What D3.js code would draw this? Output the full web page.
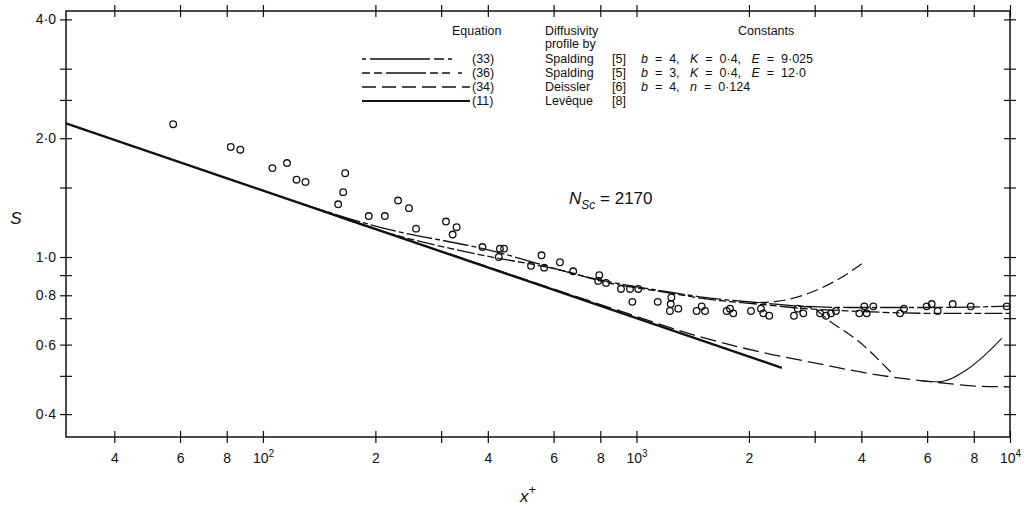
<!DOCTYPE html>
<html>
<head>
<meta charset="utf-8">
<script src="https://cdn.jsdelivr.net/npm/d3@7"></script>
<style>
  body { margin: 0; background: #fff; }
  text { font-family: "Liberation Sans", Arial, sans-serif; fill: #111; }
</style>
</head>
<body>
<svg id="chart" width="1026" height="506"></svg>
<script>
// axis ticks
const xTicks = [40, 60, 80, 100, 200, 300, 400, 600, 800, 1000, 2000, 3000, 4000, 6000, 8000, 10000];
const xTickLabels = ["4", "6", "8", "10^2", "2", "", "4", "6", "8", "10^3", "2", "", "4", "6", "8", "10^4"];
const yTicks = [0.4, 0.5, 0.6, 0.7, 0.8, 0.9, 1.0, 1.5, 2.0, 2.5, 3.0, 4.0];
const yTickLabels = ["0·4", "", "0·6", "", "0·8", "", "1·0", "", "2·0", "", "", "4·0"];

// measured points (x+, S)
const ptX = [57.5, 82, 87, 106, 116, 123, 130, 166, 164, 159, 192, 212, 230, 246, 257, 309, 330, 322,
  387, 431, 442, 428, 522, 557, 566, 624, 677, 795, 790, 829, 909, 961, 1011, 975, 1140, 1235, 1229,
  1294, 1240, 1449, 1495, 1526, 1744, 1780, 1816, 2026, 2154, 2185, 2267, 2640, 2702, 2797, 3100,
  3217, 3316, 3420, 3950, 4074, 4134, 4305, 5077, 5203, 5984, 6171, 6404, 7024, 7850, 9800];
const ptS = [2.17, 1.90, 1.87, 1.68, 1.73, 1.57, 1.55, 1.63, 1.46, 1.36, 1.27, 1.27, 1.39, 1.33, 1.18, 1.23, 1.19, 1.14,
  1.06, 1.05, 1.05, 1.00, 0.95, 1.01, 0.94, 0.97, 0.92, 0.90, 0.87, 0.86, 0.83, 0.83, 0.83, 0.77, 0.77, 0.76, 0.73,
  0.74, 0.79, 0.73, 0.75, 0.73, 0.73, 0.74, 0.72, 0.73, 0.74, 0.72, 0.71, 0.71, 0.74, 0.72, 0.72,
  0.71, 0.72, 0.73, 0.72, 0.75, 0.72, 0.75, 0.72, 0.74, 0.75, 0.76, 0.73, 0.76, 0.75, 0.75];

// theoretical curves
const leveque = [[29.7, 2.18], [2450, 0.524]];
const spalding33 = [[125.6, 1.37], [209.7, 1.184], [388, 1.05], [799, 0.875], [1207, 0.817], [1479, 0.793],
  [2236, 0.763], [2741, 0.751], [3729, 0.745], [6219, 0.745], [10000, 0.751]];
const spalding33Up = [[2100, 0.767], [2373, 0.772], [3038, 0.825], [3506, 0.883], [4023, 0.964]];
const spalding36 = [[142, 1.315], [209.7, 1.16], [316.7, 1.052], [388, 1.01], [652, 0.918], [799, 0.87],
  [1207, 0.813], [1479, 0.787], [2236, 0.756], [2741, 0.742], [3729, 0.73], [6219, 0.72], [10000, 0.72]];
const spalding36Down = [[2741, 0.751], [2914, 0.746], [3357, 0.679], [3888, 0.617], [4825, 0.508]];
const deissler34 = [[316.7, 1.018], [903, 0.73], [1479, 0.628], [2232, 0.57], [3038, 0.538], [4134, 0.508],
  [6427, 0.481], [8144, 0.471], [10000, 0.469]];
const deissler34Up = [[5800, 0.486], [6427, 0.483], [7656, 0.518], [8664, 0.57], [9500, 0.622]];

// legend
const legendEq = ["(33)", "(36)", "(34)", "(11)"];
const legendBy = ["Spalding", "Spalding", "Deissler", "Levêque"];
const legendRef = ["[5]", "[5]", "[6]", "[8]"];
const legendConst = ["b  =  4,   K  =  0·4,   E  =  9·025", "b  =  3,   K  =  0·4,   E  =  12·0", "b  =  4,   n  =  0·124", ""];
const legendDash = ["4,4,60,4,10", "8,4,8,4,40,4,8,4,8", "14,6", null];

const svg = d3.select("#chart");
const margin = {top: 11, right: 16, bottom: 69, left: 66};
const width = 1026 - margin.left - margin.right;
const height = 506 - margin.top - margin.bottom;

const x = d3.scaleLog().domain([29.7, 10000]).range([margin.left, margin.left + width]);
const y = d3.scaleLog().domain([0.35, 4.2]).range([margin.top + height, margin.top]);

// frame
svg.append("rect")
  .attr("x", margin.left).attr("y", margin.top)
  .attr("width", width).attr("height", height)
  .attr("fill", "none").attr("stroke", "#111").attr("stroke-width", 1.5);

function styleAxis(g, vertical) {
  g.select(".domain").remove();
  g.selectAll(".tick line")
    .attr("stroke", "#111").attr("stroke-width", 1.2);
  if (vertical) g.selectAll(".tick line").attr("x1", -6).attr("x2", 6);
  else g.selectAll(".tick line").attr("y1", -6).attr("y2", 6);
  g.selectAll(".tick text")
    .attr("font-family", "Liberation Sans, Arial, sans-serif")
    .attr("font-size", 14).attr("fill", "#111");
}

// bottom axis with labels
svg.append("g")
  .attr("transform", `translate(0,${margin.top + height})`)
  .call(d3.axisBottom(x).tickValues(xTicks).tickSize(6).tickPadding(10).tickFormat((d, i) => xTickLabels[i]))
  .call(g => styleAxis(g, false))
  .call(g => g.selectAll(".tick text").each(function(d, i) {
    const t = xTickLabels[i];
    if (t.includes("^")) {
      const parts = t.split("^");
      const el = d3.select(this).text(parts[0]);
      el.append("tspan").attr("dy", "-0.55em").attr("font-size", 10).text(parts[1]);
    }
  }));

svg.append("g")
  .attr("transform", `translate(0,${margin.top})`)
  .call(d3.axisTop(x).tickValues(xTicks).tickSize(6).tickFormat(""))
  .call(g => styleAxis(g, false));

svg.append("g")
  .attr("transform", `translate(${margin.left},0)`)
  .call(d3.axisLeft(y).tickValues(yTicks).tickSize(6).tickPadding(4).tickFormat((d, i) => yTickLabels[i]))
  .call(g => styleAxis(g, true));

svg.append("g")
  .attr("transform", `translate(${margin.left + width},0)`)
  .call(d3.axisRight(y).tickValues(yTicks).tickSize(6).tickFormat(""))
  .call(g => styleAxis(g, true));

// axis titles
svg.append("text")
  .attr("x", 16).attr("y", 224)
  .attr("text-anchor", "middle")
  .attr("font-size", 17).attr("font-style", "italic")
  .text("S");

const xt = svg.append("text")
  .attr("x", 520).attr("y", 502)
  .attr("font-size", 17).attr("font-style", "italic")
  .text("x");
xt.append("tspan").attr("dy", "-0.6em").attr("font-size", 13).attr("font-style", "normal").text("+");

// curves
const line = d3.line()
  .x(d => x(d[0]))
  .y(d => y(d[1]))
  .curve(d3.curveMonotoneX);

const curves = [
  {data: leveque, dash: null, w: 2.4},
  {data: spalding33, dash: "26,3,5,3", w: 1.3},
  {data: spalding33Up, dash: "12,5", w: 1.2},
  {data: spalding36, dash: "7,3,7,3,18,3", w: 1.3},
  {data: spalding36Down, dash: "12,5", w: 1.2},
  {data: deissler34, dash: "16,6", w: 1.3},
  {data: deissler34Up, dash: null, w: 1.1}
];

svg.append("g").selectAll("path")
  .data(curves)
  .enter()
  .append("path")
  .attr("d", d => line(d.data))
  .attr("fill", "none")
  .attr("stroke", "#111")
  .attr("stroke-width", d => d.w)
  .attr("stroke-dasharray", d => d.dash);

// data points
svg.append("g").selectAll("circle")
  .data(ptX.map((v, i) => [v, ptS[i]]))
  .enter()
  .append("circle")
  .attr("cx", d => x(d[0]))
  .attr("cy", d => y(d[1]))
  .attr("r", 3.3)
  .attr("fill", "none")
  .attr("stroke", "#111")
  .attr("stroke-width", 1.3);

// legend block
const lg = svg.append("g").attr("font-size", 12.5);
lg.append("text").attr("x", 452).attr("y", 35).text("Equation");
lg.append("text").attr("x", 545).attr("y", 35).text("Diffusivity");
lg.append("text").attr("x", 545).attr("y", 48).text("profile by");
lg.append("text").attr("x", 738).attr("y", 35).text("Constants");

const rowY = [63, 77, 91, 105];
legendEq.forEach((eq, i) => {
  const ry = rowY[i];
  lg.append("line")
    .attr("x1", 362).attr("x2", 470)
    .attr("y1", ry - 4).attr("y2", ry - 4)
    .attr("stroke", "#111")
    .attr("stroke-width", i === 3 ? 1.8 : 1.3)
    .attr("stroke-dasharray", legendDash[i]);
  lg.append("text").attr("x", 472).attr("y", ry).text(eq);
  lg.append("text").attr("x", 545).attr("y", ry).text(legendBy[i]);
  lg.append("text").attr("x", 612).attr("y", ry).text(legendRef[i]);
  const t = lg.append("text").attr("x", 641).attr("y", ry).style("white-space", "pre");
  legendConst[i].split(/\b([bKEn])\b/).forEach(part => {
    if (part === "") return;
    const sp = t.append("tspan").text(part);
    if (/^[bKEn]$/.test(part)) sp.attr("font-style", "italic");
  });
});

// Schmidt number label
const ns = svg.append("text").attr("x", 569).attr("y", 204).attr("font-size", 17);
ns.append("tspan").attr("font-style", "italic").text("N");
ns.append("tspan").attr("font-style", "italic").attr("font-size", 12).attr("dy", 5).text("Sc");
ns.append("tspan").attr("dy", -5).style("white-space", "pre").text(" = 2170");
</script>
</body>
</html>
